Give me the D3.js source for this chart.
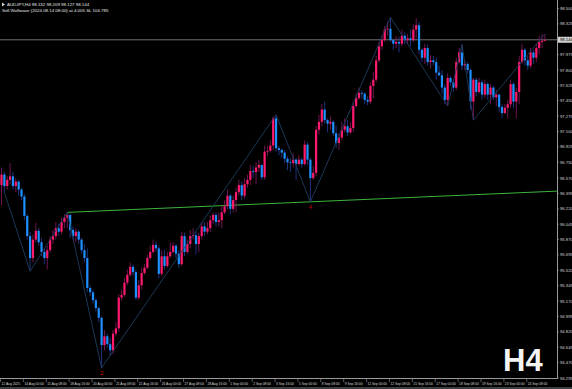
<!DOCTYPE html>
<html><head><meta charset="utf-8">
<script src="https://cdn.jsdelivr.net/npm/d3@7"></script>
<style>html,body{margin:0;padding:0;background:#000;overflow:hidden}svg{display:block}</style>
</head><body><svg id="c" width="572" height="389"></svg>
<script>
const symbolTitle = "AUDJPY,H4  98.132 98.209 98.127 98.144";
const signalText = "Sell Wolfwave (2024.08.14 08:00) at 4.005 SL 104.785";
const periodLabel = "H4";
const firstOpen = 96.49;
const closes = [96.61,96.48,96.55,96.59,96.48,96.53,96.44,96.36,96.14,95.91,
95.66,95.87,95.97,95.84,95.73,95.66,95.75,95.87,95.91,96.00,
95.96,96.07,96.12,96.15,95.98,95.91,95.96,95.87,95.75,95.66,
95.32,95.27,95.18,95.09,94.98,94.67,94.77,94.68,94.61,94.80,
94.86,95.21,95.24,95.38,95.47,95.56,95.50,95.21,95.35,95.49,
95.55,95.66,95.73,95.81,95.77,95.48,95.68,95.57,95.68,95.73,
95.80,95.71,95.59,95.91,95.73,95.82,95.91,95.92,95.82,95.91,
96.02,95.96,96.00,96.09,96.15,96.07,96.09,96.18,96.25,96.37,
96.22,96.32,96.41,96.49,96.37,96.50,96.55,96.65,96.64,96.69,
96.72,96.58,96.87,96.88,96.94,97.25,96.91,96.89,96.86,96.79,
96.75,96.74,96.78,96.73,96.78,96.73,96.95,96.78,96.57,96.63,
97.12,97.21,97.35,97.23,97.19,97.21,97.08,96.97,97.03,97.12,
97.16,97.09,97.14,97.39,97.48,97.54,97.53,97.46,97.44,97.62,
97.69,97.91,98.07,98.14,98.26,98.27,98.14,98.10,98.12,98.10,
98.19,98.14,98.16,98.14,98.26,98.31,98.03,97.94,98.05,97.89,
97.91,97.89,97.77,97.74,97.60,97.46,97.71,97.66,97.60,97.89,
98.00,97.85,97.87,97.80,97.44,97.69,97.55,97.66,97.52,97.64,
97.52,97.60,97.49,97.52,97.38,97.31,97.37,97.41,97.64,97.44,
97.55,97.89,98.03,97.91,97.85,98.00,97.94,98.05,98.12,98.132,
98.144];
const highs = [96.69,96.64,96.59,96.74,96.64,96.57,96.55,96.46,96.39,96.16,
95.96,95.93,96.06,96.00,95.89,95.77,95.80,95.91,95.98,96.07,
96.05,96.12,96.16,96.18,96.17,96.02,96.00,95.98,95.89,95.82,
95.77,95.35,95.30,95.21,95.11,95.00,94.84,94.80,94.75,94.84,
94.93,95.25,95.30,95.43,95.53,95.61,95.59,95.53,95.41,95.55,
95.59,95.70,95.80,95.87,95.85,95.80,95.75,95.75,95.73,95.84,
95.84,95.82,95.75,95.96,95.95,95.87,95.98,96.00,95.96,95.95,
96.07,96.07,96.07,96.14,96.18,96.18,96.18,96.25,96.32,96.44,
96.39,96.37,96.46,96.55,96.53,96.57,96.61,96.72,96.71,96.75,
96.78,96.72,96.94,96.94,97.00,97.27,97.29,96.94,96.91,96.89,
96.82,96.80,96.85,96.80,96.83,96.80,97.00,96.98,96.80,96.71,
97.16,97.29,97.41,97.44,97.25,97.27,97.23,97.17,97.08,97.21,
97.25,97.23,97.21,97.44,97.53,97.60,97.57,97.55,97.50,97.66,
97.78,97.96,98.12,98.19,98.30,98.35,98.40,98.16,98.19,98.18,
98.26,98.23,98.21,98.26,98.32,98.39,98.35,98.05,98.10,98.09,
97.97,97.96,97.94,97.85,97.80,97.64,97.76,97.73,97.69,97.94,
98.05,98.09,97.91,97.89,97.82,97.71,97.71,97.71,97.69,97.69,
97.66,97.64,97.62,97.57,97.53,97.41,97.41,97.46,97.69,97.66,
97.60,97.96,98.10,98.05,97.96,98.05,98.03,98.10,98.19,98.21,
98.209];
const lows = [96.26,96.41,96.44,96.50,96.44,96.41,96.37,96.32,96.09,95.87,
95.51,95.61,95.84,95.80,95.68,95.59,95.53,95.72,95.82,95.87,
95.91,95.93,96.00,96.00,95.89,95.87,95.84,95.82,95.71,95.61,
95.27,95.23,95.14,95.05,94.93,94.41,94.61,94.64,94.55,94.57,
94.77,94.82,95.18,95.22,95.35,95.45,95.46,95.18,95.18,95.30,
95.47,95.53,95.64,95.71,95.73,95.43,95.46,95.53,95.55,95.66,
95.71,95.66,95.55,95.57,95.68,95.71,95.77,95.87,95.70,95.73,
95.87,95.91,95.93,95.96,96.05,96.02,96.02,96.00,96.16,96.21,
96.16,96.18,96.18,96.37,96.32,96.34,96.46,96.49,96.57,96.50,
96.64,96.55,96.55,96.82,96.86,96.89,96.87,96.83,96.80,96.74,
96.66,96.64,96.69,96.55,96.71,96.69,96.71,96.72,96.30,96.55,
96.59,97.07,97.16,97.19,97.09,97.12,97.05,96.91,96.89,97.00,
97.09,97.05,97.07,97.09,97.37,97.46,97.47,97.41,97.40,97.41,
97.48,97.66,97.89,98.03,98.12,98.19,98.12,98.03,98.05,98.00,
98.07,98.09,98.10,98.07,98.12,98.16,97.98,97.89,97.87,97.85,
97.82,97.85,97.69,97.73,97.53,97.41,97.39,97.62,97.55,97.57,
97.87,97.80,97.80,97.76,97.35,97.23,97.50,97.53,97.46,97.48,
97.46,97.41,97.46,97.39,97.32,97.25,97.30,97.25,97.37,97.37,
97.25,97.41,97.87,97.85,97.80,97.82,97.87,97.89,97.98,98.05,
98.127];
const zigzagBars = [1,10,23,35,96,108,136,156,161,165,190];
const zigzagPrices = [96.41,95.51,96.18,94.41,97.29,96.30,98.40,97.39,98.09,97.23,98.21];
const waveMarks = ["2","4"];
const waveMarkBars = [35,108];
const waveMarkPrices = [94.41,96.30];
const trendBars = [23,108];
const trendPrices = [96.18,96.30];
const bidPrice = 98.144;
const priceTicks = ["98.500","98.325","97.975","97.800","97.625","97.450","97.275","97.100","96.925","96.750","96.570","96.395","96.220","96.045","95.870","95.695","95.520","95.345","95.170","94.995","94.820","94.645","94.470","94.295"];
const timeLabels = ["12 Aug 2025","14 Aug 00:00","15 Aug 08:00","18 Aug 16:00","20 Aug 00:00","21 Aug 08:00","22 Aug 16:00","26 Aug 00:00","27 Aug 08:00","28 Aug 16:00","1 Sep 00:00","2 Sep 08:00","3 Sep 16:00","5 Sep 00:00","8 Sep 08:00","9 Sep 16:00","11 Sep 00:00","12 Sep 08:00","15 Sep 16:00","17 Sep 00:00","18 Sep 08:00","19 Sep 16:00","23 Sep 00:00","24 Sep 08:00"];
const timeLabelBars = [0,8,16,24,32,40,48,56,64,72,80,88,96,104,112,120,128,136,144,152,160,168,176,184];

const W = 572, H = 389, axisX = 557, axisY = 378;
const svg = d3.select("#c");
const font = "'Liberation Sans', Arial, sans-serif";
svg.append("rect").attr("width", W).attr("height", H).attr("fill", "#000");

const x = d3.scaleLinear().domain([0, 190]).range([1.5, 1.5 + 2.86 * 190]);
const y = d3.scaleLinear().domain([94.295, 98.5]).range([axisY, 8.5]);

const bars = closes.map((c, i) => {
  const o = i === 0 ? firstOpen : closes[i - 1];
  return {i, o, c, h: Math.max(highs[i], o, c), l: Math.min(lows[i], o, c)};
});

const plot = svg.append("g");
plot.append("line").attr("x1", 0).attr("x2", axisX).attr("y1", y(bidPrice)).attr("y2", y(bidPrice))
  .attr("stroke", "#8a8a8a").attr("stroke-width", 0.8);
const slope = (trendPrices[1] - trendPrices[0]) / (trendBars[1] - trendBars[0]);
const endBar = x.invert(axisX);
plot.append("line")
  .attr("x1", x(trendBars[0])).attr("y1", y(trendPrices[0]))
  .attr("x2", axisX).attr("y2", y(trendPrices[0] + slope * (endBar - trendBars[0])))
  .attr("stroke", "#3cb43c").attr("stroke-width", 1);

const cg = plot.append("g");
cg.selectAll("line.w").data(bars).join("line").attr("class", "w")
  .attr("x1", d => x(d.i)).attr("x2", d => x(d.i))
  .attr("y1", d => y(d.h)).attr("y2", d => y(d.l))
  .attr("stroke", d => d.c >= d.o ? "#8a1a66" : "#24409a").attr("stroke-width", 0.8);
cg.selectAll("rect.b").data(bars).join("rect").attr("class", "b")
  .attr("x", d => x(d.i) - 1.1).attr("width", 2.2)
  .attr("y", d => y(Math.max(d.o, d.c)))
  .attr("height", d => Math.max(0.8, Math.abs(y(d.o) - y(d.c))))
  .attr("fill", d => d.c >= d.o ? "#ff1a6e" : "#1e90ff");

const zz = zigzagBars.map((b, k) => [x(b), y(zigzagPrices[k])]);
plot.append("path").attr("d", d3.line()(zz)).attr("fill", "none")
  .attr("stroke", "#1f3d60").attr("stroke-width", 0.9);
plot.selectAll("text.wm").data(waveMarks).join("text").attr("class", "wm")
  .attr("x", (d, k) => x(waveMarkBars[k])).attr("y", (d, k) => y(waveMarkPrices[k]) + 7)
  .attr("text-anchor", "middle").attr("font-family", font).attr("font-size", 6)
  .attr("fill", "#c00000").text(d => d);

svg.append("line").attr("x1", axisX + 0.5).attr("x2", axisX + 0.5).attr("y1", 0).attr("y2", axisY + 0.5)
  .attr("stroke", "#9a9a9a").attr("stroke-width", 1);
svg.append("line").attr("x1", 0).attr("x2", axisX + 0.5).attr("y1", axisY + 0.5).attr("y2", axisY + 0.5)
  .attr("stroke", "#9a9a9a").attr("stroke-width", 1);

const pa = svg.append("g");
priceTicks.forEach(t => {
  const yy = y(+t);
  pa.append("line").attr("x1", axisX).attr("x2", axisX + 2).attr("y1", yy).attr("y2", yy)
    .attr("stroke", "#9a9a9a").attr("stroke-width", 0.6);
  pa.append("text").attr("x", axisX + 3).attr("y", yy + 1.5).attr("font-family", font)
    .attr("font-size", 4.2).attr("fill", "#d8d8d8").text(t);
});
pa.append("rect").attr("x", axisX + 1).attr("y", y(bidPrice) - 3).attr("width", W - axisX - 1).attr("height", 6)
  .attr("fill", "#cfcfcf");
pa.append("text").attr("x", axisX + 3).attr("y", y(bidPrice) + 1.5).attr("font-family", font)
  .attr("font-size", 4.2).attr("fill", "#000").text(bidPrice.toFixed(3));

const ta = svg.append("g");
timeLabels.forEach((t, k) => {
  const xx = x(timeLabelBars[k]) - 1.5;
  ta.append("line").attr("x1", xx + 0.5).attr("x2", xx + 0.5).attr("y1", axisY).attr("y2", axisY + 4)
    .attr("stroke", "#9a9a9a").attr("stroke-width", 0.6);
  ta.append("text").attr("x", xx + 1.5).attr("y", axisY + 7).attr("font-family", font)
    .attr("font-size", 3.3).attr("fill", "#d8d8d8").text(t);
});
svg.append("rect").attr("x", 0).attr("y", 387).attr("width", W).attr("height", 2).attr("fill", "#3a3f42");

svg.append("path").attr("d", "M2,2.5 L5,4.5 L2,6.5 Z").attr("fill", "#d0d0d0");
svg.append("text").attr("x", 7).attr("y", 6).attr("font-family", font).attr("font-size", 4.4)
  .attr("fill", "#e8e8e8").text(symbolTitle);
svg.append("text").attr("x", 2).attr("y", 12).attr("font-family", font).attr("font-size", 4.4)
  .attr("fill", "#e8e8e8").text(signalText);

svg.append("text").attr("x", 503).attr("y", 371).attr("font-family", font).attr("font-weight", "bold")
  .attr("font-size", 31).attr("fill", "#f4f4f4").text(periodLabel);
</script></body></html>
